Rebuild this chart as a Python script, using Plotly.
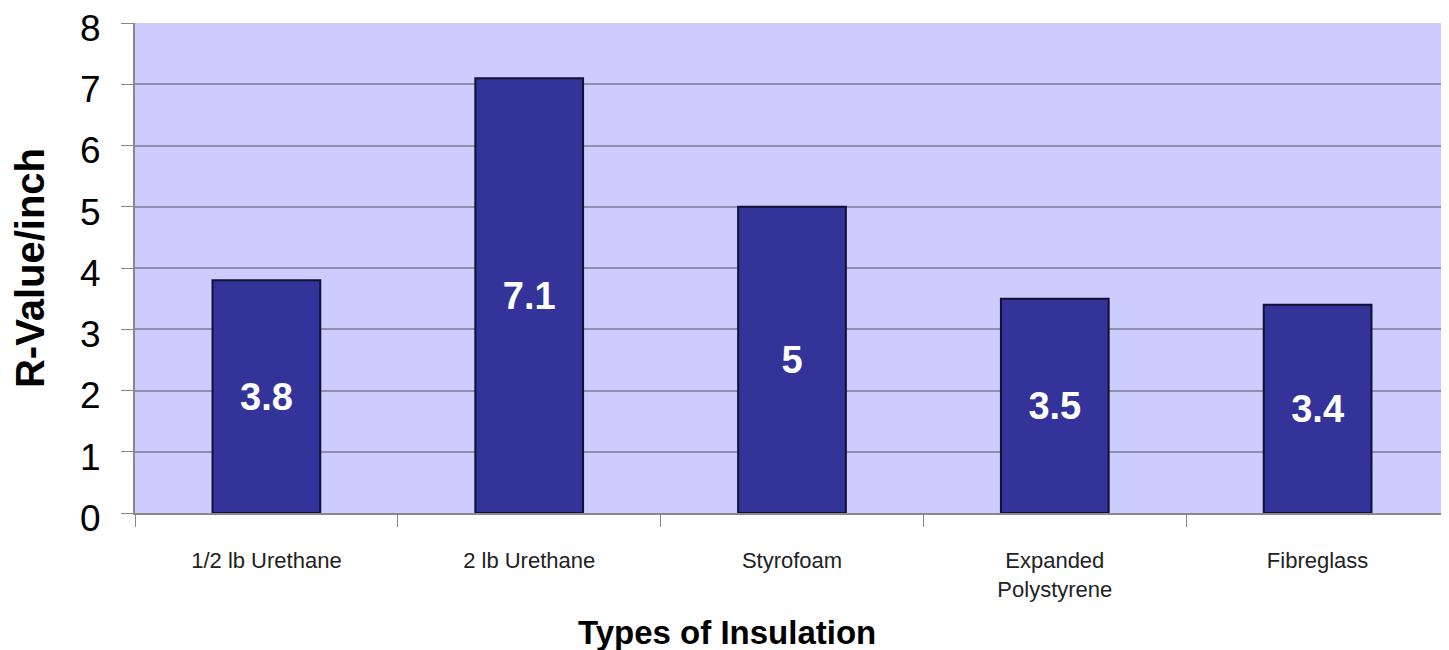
import plotly.graph_objects as go

tipos = ["1/2 lb Urethane", "2 lb Urethane", "Styrofoam", "Expanded<br>Polystyrene", "Fibreglass"]
valores_r = [3.8, 7.1, 5, 3.5, 3.4]
etiquetas = ["3.8", "7.1", "5", "3.5", "3.4"]

fig = go.Figure(
    data=[
        go.Bar(
            x=tipos,
            y=valores_r,
            text=etiquetas,
            textposition="inside",
            insidetextanchor="middle",
            textangle=0,
            textfont=dict(family="Liberation Sans, Arial", size=38, color="white", weight="bold"),
            marker=dict(color="#333399", line=dict(color="#111133", width=2)),
            width=0.41,
        )
    ]
)

# la página tiene 8px de margen, así que la figura es algo más pequeña que la ventana
fig.update_layout(
    width=1441,
    height=642,
    margin=dict(l=127, r=0, t=15, b=137),
    paper_bgcolor="white",
    plot_bgcolor="#ccccff",
    showlegend=False,
    font=dict(family="Liberation Sans, Arial", color="black"),
)

# el título del eje X no está centrado sobre el área del gráfico en el original
fig.add_annotation(
    text="Types of Insulation",
    xref="paper",
    yref="paper",
    x=0.4505,
    y=0,
    yshift=-119,
    xanchor="center",
    yanchor="middle",
    showarrow=False,
    font=dict(size=33, weight="bold", color="black"),
)

fig.update_xaxes(
    tickfont=dict(size=22, color="#222"),
    tickson="boundaries",
    ticks="outside",
    ticklen=12,
    tickcolor="#888",
    ticklabelstandoff=27,
    showline=True,
    linecolor="#888",
    linewidth=2,
    showgrid=False,
    automargin=False,
)

fig.update_yaxes(
    title=dict(text="R-Value/inch", font=dict(size=40, weight="bold"), standoff=36),
    range=[0, 8],
    dtick=1,
    tickfont=dict(size=37),
    ticks="outside",
    ticklen=12,
    tickcolor="#888",
    ticklabelstandoff=13,
    ticklabelshift=5,
    ticklabeloverflow="allow",
    showline=True,
    linecolor="#888",
    linewidth=2,
    gridcolor="#8f8fb0",
    gridwidth=1.5,
    zeroline=False,
    automargin=False,
)

fig.write_html("out.html")
